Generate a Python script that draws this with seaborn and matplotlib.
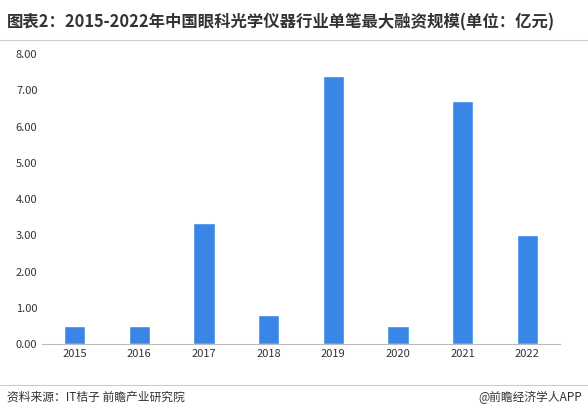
import matplotlib
matplotlib.use("Agg")
import matplotlib.pyplot as plt
import seaborn as sns

years = ["2015", "2016", "2017", "2018", "2019", "2020", "2021", "2022"]
values = [0.5, 0.5, 3.35, 0.8, 7.4, 0.5, 6.7, 3.0]

sns.set_style("white")
plt.rcParams['font.family'] = ['Noto Sans CJK SC', 'DejaVu Sans']

fig = plt.figure(figsize=(5.88, 4.16), dpi=100)
ax = fig.add_axes([0.072, 0.173, 0.88, 0.697])
sns.barplot(x=years, y=values, color="#3a86e6", width=0.33, saturation=1, ax=ax)

ax.set_ylim(0, 8)
ax.set_yticks(range(0, 9))
ax.set_yticklabels([f"{v:.2f}" for v in range(0, 9)], fontsize=8, color="#333333")
ax.tick_params(axis="x", labelsize=8, colors="#333333", length=0)
ax.tick_params(axis="y", length=0)
for s in ["top", "right", "left"]:
    ax.spines[s].set_visible(False)
ax.spines["bottom"].set_color("#bbbbbb")

fig.text(0.012, 0.945, "图表2：2015-2022年中国眼科光学仪器行业单笔最大融资规模(单位：亿元)",
         fontsize=11.8, fontweight="bold", color="#333333", va="center")
fig.add_artist(plt.Line2D([0, 1], [0.905, 0.905], color="#cccccc", lw=0.8))
fig.add_artist(plt.Line2D([0, 1], [0.075, 0.075], color="#cccccc", lw=0.8))
fig.text(0.012, 0.045, "资料来源：IT桔子 前瞻产业研究院", fontsize=8.5, color="#333333", va="center")
fig.text(0.99, 0.045, "@前瞻经济学人APP", fontsize=8.5, color="#333333", va="center", ha="right")

fig.savefig("out.png", dpi=100)
